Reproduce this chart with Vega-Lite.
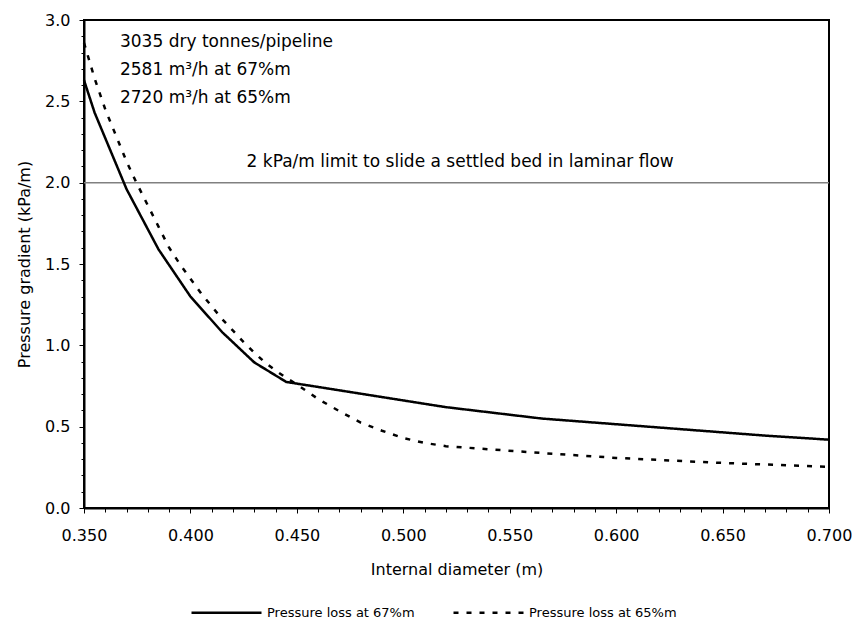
{
  "$schema": "https://vega.github.io/schema/vega-lite/v6.json",
  "width": 745,
  "height": 488,
  "autosize": "none",
  "padding": {"left": 84, "top": 20, "right": 28, "bottom": 113},
  "background": "white",
  "config": {
    "font": "DejaVu Sans",
    "view": {"stroke": "black", "strokeWidth": 2},
    "axis": {"grid": false, "domainColor": "black", "domainWidth": 2, "tickColor": "black", "tickWidth": 1, "labelColor": "black", "titleColor": "black", "labelFont": "DejaVu Sans", "titleFont": "DejaVu Sans", "labelFontSize": 16, "titleFontSize": 16, "titleFontWeight": "normal", "labelOverlap": false, "labelFlush": false, "labelBound": false}
  },
  "datasets": {
    "lines": [
      {"d": 0.350, "p": 2.63, "series": "Pressure loss at 67%m"},
      {"d": 0.355, "p": 2.43, "series": "Pressure loss at 67%m"},
      {"d": 0.370, "p": 1.96, "series": "Pressure loss at 67%m"},
      {"d": 0.385, "p": 1.59, "series": "Pressure loss at 67%m"},
      {"d": 0.400, "p": 1.30, "series": "Pressure loss at 67%m"},
      {"d": 0.415, "p": 1.08, "series": "Pressure loss at 67%m"},
      {"d": 0.430, "p": 0.895, "series": "Pressure loss at 67%m"},
      {"d": 0.445, "p": 0.775, "series": "Pressure loss at 67%m"},
      {"d": 0.520, "p": 0.62, "series": "Pressure loss at 67%m"},
      {"d": 0.565, "p": 0.55, "series": "Pressure loss at 67%m"},
      {"d": 0.670, "p": 0.445, "series": "Pressure loss at 67%m"},
      {"d": 0.700, "p": 0.42, "series": "Pressure loss at 67%m"},
      {"d": 0.350, "p": 2.86, "series": "Pressure loss at 65%m"},
      {"d": 0.355, "p": 2.64, "series": "Pressure loss at 65%m"},
      {"d": 0.360, "p": 2.45, "series": "Pressure loss at 65%m"},
      {"d": 0.365, "p": 2.29, "series": "Pressure loss at 65%m"},
      {"d": 0.370, "p": 2.13, "series": "Pressure loss at 65%m"},
      {"d": 0.375, "p": 1.99, "series": "Pressure loss at 65%m"},
      {"d": 0.380, "p": 1.86, "series": "Pressure loss at 65%m"},
      {"d": 0.385, "p": 1.73, "series": "Pressure loss at 65%m"},
      {"d": 0.390, "p": 1.60, "series": "Pressure loss at 65%m"},
      {"d": 0.395, "p": 1.50, "series": "Pressure loss at 65%m"},
      {"d": 0.400, "p": 1.41, "series": "Pressure loss at 65%m"},
      {"d": 0.405, "p": 1.32, "series": "Pressure loss at 65%m"},
      {"d": 0.410, "p": 1.24, "series": "Pressure loss at 65%m"},
      {"d": 0.415, "p": 1.16, "series": "Pressure loss at 65%m"},
      {"d": 0.420, "p": 1.09, "series": "Pressure loss at 65%m"},
      {"d": 0.425, "p": 1.02, "series": "Pressure loss at 65%m"},
      {"d": 0.430, "p": 0.955, "series": "Pressure loss at 65%m"},
      {"d": 0.435, "p": 0.895, "series": "Pressure loss at 65%m"},
      {"d": 0.440, "p": 0.845, "series": "Pressure loss at 65%m"},
      {"d": 0.445, "p": 0.80, "series": "Pressure loss at 65%m"},
      {"d": 0.450, "p": 0.76, "series": "Pressure loss at 65%m"},
      {"d": 0.460, "p": 0.67, "series": "Pressure loss at 65%m"},
      {"d": 0.470, "p": 0.595, "series": "Pressure loss at 65%m"},
      {"d": 0.480, "p": 0.525, "series": "Pressure loss at 65%m"},
      {"d": 0.490, "p": 0.475, "series": "Pressure loss at 65%m"},
      {"d": 0.500, "p": 0.43, "series": "Pressure loss at 65%m"},
      {"d": 0.510, "p": 0.40, "series": "Pressure loss at 65%m"},
      {"d": 0.520, "p": 0.38, "series": "Pressure loss at 65%m"},
      {"d": 0.565, "p": 0.338, "series": "Pressure loss at 65%m"},
      {"d": 0.600, "p": 0.308, "series": "Pressure loss at 65%m"},
      {"d": 0.650, "p": 0.277, "series": "Pressure loss at 65%m"},
      {"d": 0.700, "p": 0.253, "series": "Pressure loss at 65%m"}
    ],
    "notes": [
      {"d": 0.3669, "p": 2.834, "label": "3035 dry tonnes/pipeline"},
      {"d": 0.3669, "p": 2.662, "label": "2581 m³/h at 67%m"},
      {"d": 0.3669, "p": 2.488, "label": "2720 m³/h at 65%m"},
      {"d": 0.4264, "p": 2.096, "label": "2 kPa/m limit to slide a settled bed in laminar flow"}
    ],
    "limit": [{"p": 2}]
  },
  "resolve": {"axis": {"x": "independent", "y": "independent"}},
  "layer": [
    {
      "data": {"name": "limit"},
      "mark": {"type": "rule", "color": "#808080", "strokeWidth": 1.5},
      "encoding": {"y": {"field": "p", "type": "quantitative", "axis": null}}
    },
    {
      "data": {"name": "lines"},
      "mark": {"type": "line", "color": "black", "strokeWidth": 2.5},
      "encoding": {
        "x": {"field": "d", "type": "quantitative",
          "scale": {"domain": [0.35, 0.70], "nice": false, "zero": false},
          "axis": {"title": "Internal diameter (m)", "orient": "bottom",
            "values": [0.35, 0.40, 0.45, 0.50, 0.55, 0.60, 0.65, 0.70],
            "format": ".3f", "tickSize": 5,
            "labelOverlap": false, "labelFlush": false,
            "labelPadding": 14, "titlePadding": 18}},
        "y": {"field": "p", "type": "quantitative",
          "scale": {"domain": [0, 3], "nice": false, "zero": false},
          "axis": {"title": "Pressure gradient (kPa/m)", "orient": "left",
            "values": [0, 0.5, 1.0, 1.5, 2.0, 2.5, 3.0],
            "format": ".1f", "tickSize": 5,
            "labelOverlap": false,
            "labelPadding": 9, "titlePadding": 12}},
        "detail": {"field": "series"},
        "strokeDash": {"field": "series", "type": "nominal",
          "scale": {"domain": ["Pressure loss at 67%m", "Pressure loss at 65%m"], "range": [[1, 0], [5, 8]]},
          "legend": {"title": null, "orient": "none", "direction": "horizontal", "legendX": 106, "legendY": 556,
            "symbolType": "stroke", "symbolSize": 4900, "symbolStrokeWidth": 2.5, "symbolStrokeColor": "black",
            "labelFontSize": 13, "labelColor": "black", "labelFont": "DejaVu Sans", "labelOffset": 4, "columnPadding": 33, "padding": 0, "labelLimit": 300}}
      }
    },
    {
      "data": {"name": "notes"},
      "mark": {"type": "text", "align": "left", "baseline": "alphabetic", "fontSize": 17, "color": "black", "font": "DejaVu Sans"},
      "encoding": {
        "x": {"field": "d", "type": "quantitative",
          "axis": {"orient": "bottom", "title": null, "labels": false, "domain": false, "tickSize": 4,
            "values": [0.36,0.37,0.38,0.39,0.41,0.42,0.43,0.44,0.46,0.47,0.48,0.49,0.51,0.52,0.53,0.54,0.56,0.57,0.58,0.59,0.61,0.62,0.63,0.64,0.66,0.67,0.68,0.69]}},
        "y": {"field": "p", "type": "quantitative",
          "axis": {"orient": "left", "title": null, "labels": false, "domain": false, "tickSize": 3,
            "values": [0.1,0.2,0.3,0.4,0.6,0.7,0.8,0.9,1.1,1.2,1.3,1.4,1.6,1.7,1.8,1.9,2.1,2.2,2.3,2.4,2.6,2.7,2.8,2.9]}},
        "text": {"field": "label"}
      }
    }
  ]
}
